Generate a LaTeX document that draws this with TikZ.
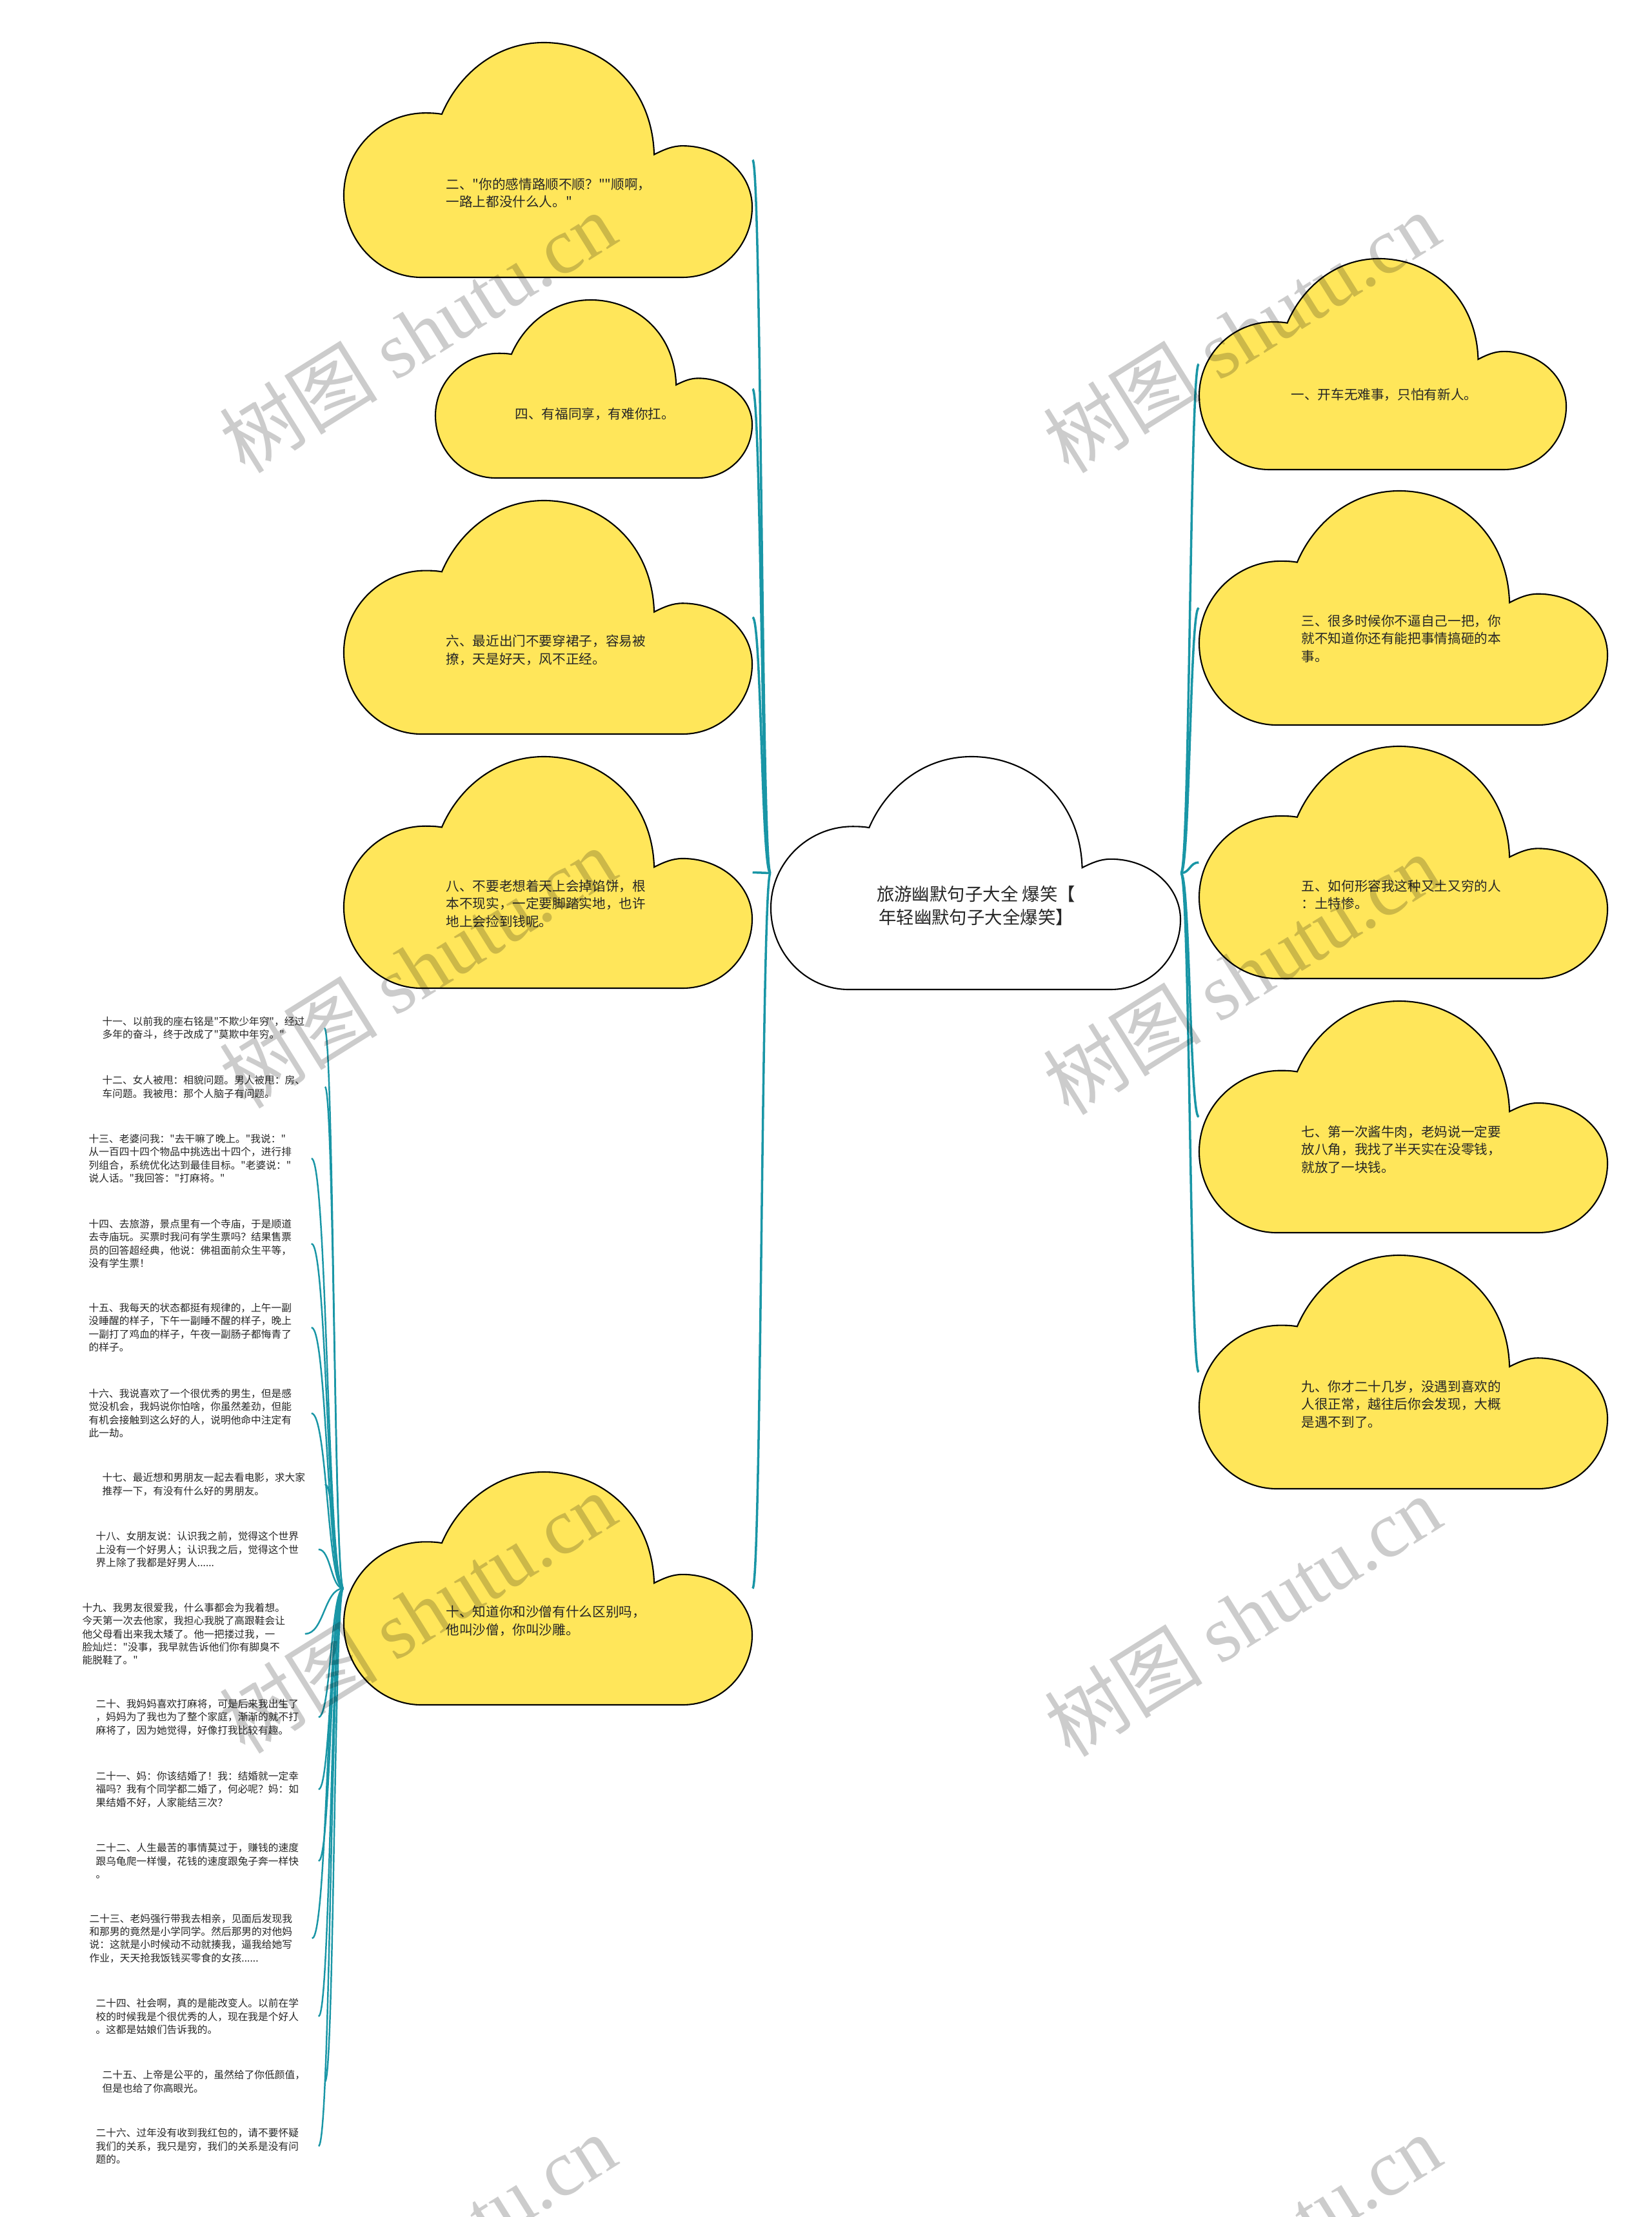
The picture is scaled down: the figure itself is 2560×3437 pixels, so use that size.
\documentclass[tikz,border=0pt]{standalone}
\usepackage{fontspec}
\setmainfont{Noto Sans CJK SC}
\newfontfamily\cjk{Noto Sans CJK SC}
\newfontfamily\wmfont{Liberation Serif}
\usetikzlibrary{fit,calc}
\definecolor{cloudyellow}{HTML}{FFE65A}
\definecolor{linkteal}{HTML}{1996A6}
\definecolor{txt}{HTML}{262626}
\tikzset{
  cloudline/.style={draw=black, line width=0.6pt},
  link/.style={draw=linkteal, line width=1pt},
  sublink/.style={draw=linkteal, line width=0.7pt},
  cloudtext/.style={font=\cjk\fontsize{5.86pt}{7.8pt}\selectfont, text=txt, align=left, inner sep=0pt, anchor=west},
  roottext/.style={font=\cjk\fontsize{7.8pt}{9.96pt}\selectfont, text=txt, align=center, inner sep=0pt},
  leaftext/.style={font=\cjk\fontsize{4.47pt}{5.78pt}\selectfont, text=txt, align=left, inner sep=0pt, anchor=west},
  bbox/.style={inner sep=0pt, draw=none},
  wmark/.style={font=\cjk\fontsize{35pt}{35pt}\selectfont, text=black, opacity=0.2, rotate=32, inner sep=0pt},
}
\newcommand\cloudshape[5]{%
  \path[cloudline, fill=#5, shift={(#1,#2)}, xscale=#3, yscale=#4]
   (0.19,1) .. controls (0.085,1) and (0,0.843) .. (0,0.65)
   .. controls (0,0.457) and (0.09,0.30) .. (0.20,0.30)
   .. controls (0.22,0.30) and (0.23,0.302) .. (0.24,0.305)
   .. controls (0.28,0.14) and (0.37,0) .. (0.49,0)
   .. controls (0.63,0) and (0.755,0.18) .. (0.76,0.477)
   .. controls (0.785,0.455) and (0.805,0.44) .. (0.83,0.44)
   .. controls (0.924,0.44) and (1,0.556) .. (1,0.70)
   .. controls (1,0.866) and (0.924,1) .. (0.83,1)
   -- cycle;}
\newcommand\cloudnode[6]{%
  \cloudshape{#2}{#3}{#4}{#5}{#6}
  \node[bbox, fit={(#2,#3) ({#2+#4},{#3+#5})}] (#1) {};}
\newcommand\link[3][link]{%
  \draw[#1] let \p1=(#2), \p2=(#3) in (\p1) .. controls ({(\x1+\x2)/2},\y1) and ({(\x1+\x2)/2},\y2) .. (\p2);}
\newcommand\leaf[4]{%
  \node[leaftext] (#1) at (#2,#3) {#4};
  \link[sublink]{c10.west}{[xshift=0.3cm]#1.east}}
\begin{document}
\begin{tikzpicture}[x=0.01cm, y=-0.01cm]
\useasboundingbox (0,0) rectangle (2560,3437);
\fill[white] (0,0) rectangle (2560,3437);

% clouds
\cloudnode{c2}{533}{66}{633}{364}{cloudyellow}
\cloudnode{c4}{675}{465}{491}{276}{cloudyellow}
\cloudnode{c6}{533}{776}{633}{362}{cloudyellow}
\cloudnode{c8}{533}{1173}{633}{359}{cloudyellow}
\cloudnode{c10}{533}{2282}{633}{361}{cloudyellow}
\cloudnode{root}{1195}{1173}{635}{361}{white}
\cloudnode{c1}{1859}{401}{569}{327}{cloudyellow}
\cloudnode{c3}{1859}{761}{633}{363}{cloudyellow}
\cloudnode{c5}{1859}{1157}{633}{360}{cloudyellow}
\cloudnode{c7}{1859}{1552}{633}{359}{cloudyellow}
\cloudnode{c9}{1859}{1946}{633}{362}{cloudyellow}

% texts
\node[cloudtext] (t2) at (691,299) {二、"你的感情路顺不顺？""顺啊，\\一路上都没什么人。"};
\node[cloudtext] (t4) at (798,642) {四、有福同享，有难你扛。};
\node[cloudtext] (t6) at (691,1008) {六、最近出门不要穿裙子，容易被\\撩，天是好天，风不正经。};
\node[cloudtext] (t8) at (691,1401) {八、不要老想着天上会掉馅饼，根\\本不现实，一定要脚踏实地，也许\\地上会捡到钱呢。};
\node[cloudtext] (t10) at (691,2513) {十、知道你和沙僧有什么区别吗，\\他叫沙僧，你叫沙雕。};
\node[cloudtext] (t1) at (2001,612) {一、开车无难事，只怕有新人。};
\node[cloudtext] (t3) at (2017,990) {三、很多时候你不逼自己一把，你\\就不知道你还有能把事情搞砸的本\\事。};
\node[cloudtext] (t5) at (2017,1387) {五、如何形容我这种又土又穷的人\\：土特惨。};
\node[cloudtext] (t7) at (2017,1782) {七、第一次酱牛肉，老妈说一定要\\放八角，我找了半天实在没零钱，\\就放了一块钱。};
\node[cloudtext] (t9) at (2017,2177) {九、你才二十几岁，没遇到喜欢的\\人很正常，越往后你会发现，大概\\是遇不到了。};
\node[roottext] (troot) at (1513,1404) {旅游幽默句子大全 爆笑【\\年轻幽默句子大全爆笑】};

% main connectors
\link{root.west}{c2.east}
\link{root.west}{c4.east}
\link{root.west}{c6.east}
\link{root.west}{c8.east}
\link{root.west}{c10.east}
\link{root.east}{c1.west}
\link{root.east}{c3.west}
\link{root.east}{c5.west}
\link{root.east}{c7.west}
\link{root.east}{c9.west}

% leaves
\leaf{l11}{158}{1594}{十一、以前我的座右铭是"不欺少年穷"，经过\\多年的奋斗，终于改成了"莫欺中年穷。"}
\leaf{l12}{158}{1685}{十二、女人被甩：相貌问题。男人被甩：房、\\车问题。我被甩：那个人脑子有问题。}
\leaf{l13}{137}{1796}{十三、老婆问我："去干嘛了晚上。"我说："\\从一百四十四个物品中挑选出十四个，进行排\\列组合，系统优化达到最佳目标。"老婆说："\\说人话。"我回答："打麻将。"}
\leaf{l14}{137}{1928}{十四、去旅游，景点里有一个寺庙，于是顺道\\去寺庙玩。买票时我问有学生票吗？结果售票\\员的回答超经典，他说：佛祖面前众生平等，\\没有学生票！}
\leaf{l15}{137}{2058}{十五、我每天的状态都挺有规律的，上午一副\\没睡醒的样子，下午一副睡不醒的样子，晚上\\一副打了鸡血的样子，午夜一副肠子都悔青了\\的样子。}
\leaf{l16}{137}{2191}{十六、我说喜欢了一个很优秀的男生，但是感\\觉没机会，我妈说你怕啥，你虽然差劲，但能\\有机会接触到这么好的人，说明他命中注定有\\此一劫。}
\leaf{l17}{158}{2301}{十七、最近想和男朋友一起去看电影，求大家\\推荐一下，有没有什么好的男朋友。}
\leaf{l18}{148}{2402}{十八、女朋友说：认识我之前，觉得这个世界\\上没有一个好男人；认识我之后，觉得这个世\\界上除了我都是好男人......}
\leaf{l19}{127}{2533}{十九、我男友很爱我，什么事都会为我着想。\\今天第一次去他家，我担心我脱了高跟鞋会让\\他父母看出来我太矮了。他一把搂过我，一\\脸灿烂："没事，我早就告诉他们你有脚臭不\\能脱鞋了。"}
\leaf{l20}{148}{2662}{二十、我妈妈喜欢打麻将，可是后来我出生了\\，妈妈为了我也为了整个家庭，渐渐的就不打\\麻将了，因为她觉得，好像打我比较有趣。}
\leaf{l21}{148}{2774}{二十一、妈：你该结婚了！我：结婚就一定幸\\福吗？我有个同学都二婚了，何必呢？妈：如\\果结婚不好，人家能结三次？}
\leaf{l22}{148}{2885}{二十二、人生最苦的事情莫过于，赚钱的速度\\跟乌龟爬一样慢，花钱的速度跟兔子奔一样快\\。}
\leaf{l23}{138}{3005}{二十三、老妈强行带我去相亲，见面后发现我\\和那男的竟然是小学同学。然后那男的对他妈\\说：这就是小时候动不动就揍我，逼我给她写\\作业，天天抢我饭钱买零食的女孩......}
\leaf{l24}{148}{3126}{二十四、社会啊，真的是能改变人。以前在学\\校的时候我是个很优秀的人，现在我是个好人\\。这都是姑娘们告诉我的。}
\leaf{l25}{158}{3227}{二十五、上帝是公平的，虽然给了你低颜值，\\但是也给了你高眼光。}
\leaf{l26}{148}{3327}{二十六、过年没有收到我红包的，请不要怀疑\\我们的关系，我只是穷，我们的关系是没有问\\题的。}

% watermarks
\node[wmark] (wm1) at (647,515) {树图 {\wmfont shutu.cn}};
\node[wmark] (wm2) at (1924,515) {树图 {\wmfont shutu.cn}};
\node[wmark] (wm3) at (647,1500) {树图 {\wmfont shutu.cn}};
\node[wmark] (wm4) at (1924,1510) {树图 {\wmfont shutu.cn}};
\node[wmark] (wm5) at (647,2500) {树图 {\wmfont shutu.cn}};
\node[wmark] (wm6) at (1926,2505) {树图 {\wmfont shutu.cn}};
\node[wmark] (wm7) at (647,3495) {树图 {\wmfont shutu.cn}};
\node[wmark] (wm8) at (1926,3495) {树图 {\wmfont shutu.cn}};
\end{tikzpicture}
\end{document}
